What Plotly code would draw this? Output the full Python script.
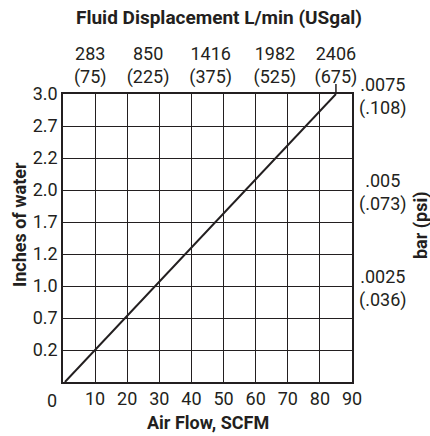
import plotly.graph_objects as go

# Data
air_flow_scfm = [0.6, 10, 85]          # x values of the line
inches_water = [0.0, 0.333, 3.0]       # y values of the line

x_ticks = [10, 20, 30, 40, 50, 60, 70, 80, 90]
y_tickvals = [i / 3 for i in range(10)]
y_ticktext = ["", "0.2", "0.7", "1.0", "1.2", "1.7", "2.0", "2.2", "2.7", "3.0"]

top_lpm = ["283", "850", "1416", "1982", "2406"]
top_usgal = ["75", "225", "375", "525", "675"]
top_pos_scfm = [8.5, 26.5, 46, 66, 85]

right_vals = [1, 2, 3]
right_bar = [".0025", ".005", ".0075"]
right_psi = [".036", ".073", ".108"]

FONT = "Roboto, Liberation Sans, sans-serif"
TXT = "#231f20"
GRID = "#231f20"

fig = go.Figure()
fig.add_trace(go.Scatter(x=air_flow_scfm, y=inches_water, mode="lines",
                         line=dict(color=TXT, width=2), showlegend=False,
                         hoverinfo="skip"))
fig.add_trace(go.Scatter(x=[0], y=[0], xaxis="x2", yaxis="y", mode="markers",
                         marker=dict(opacity=0), showlegend=False, hoverinfo="skip"))

annotations = [
    dict(text="<b>Fluid Displacement L/min (USgal)</b>", xref="paper", yref="paper",
         x=0.54, y=1.0, yshift=77, xanchor="center", yanchor="middle",
         showarrow=False, font=dict(size=19)),
    dict(text="<b>Air Flow, SCFM</b>", xref="paper", yref="paper",
         x=0.5, y=0, yshift=-40, xanchor="center", yanchor="middle",
         showarrow=False, font=dict(size=18)),
    dict(text="<b>Inches of water</b>", xref="paper", yref="paper",
         x=0, xshift=-44, y=0.545, xanchor="center", yanchor="middle",
         textangle=-90, showarrow=False, font=dict(size=18)),
    dict(text="<b>bar (psi)</b>", xref="paper", yref="paper",
         x=1, xshift=69, y=0.545, xanchor="center", yanchor="middle",
         textangle=-90, showarrow=False, font=dict(size=18)),
    dict(text="0", xref="paper", yref="paper", x=0, y=0, xshift=-4, yshift=-6,
         xanchor="right", yanchor="top", showarrow=False, font=dict(size=18)),
]
for v, b, p in zip(right_vals, right_bar, right_psi):
    annotations.append(dict(text=f"{b}<br>({p})", xref="paper", yref="y",
                            x=1, xshift=31, y=v, yshift=-2, xanchor="center",
                            yanchor="middle", align="center", showarrow=False,
                            font=dict(size=18)))

fig.update_layout(
    width=430, height=436,
    margin=dict(l=63, r=78, t=94, b=54),
    paper_bgcolor="white", plot_bgcolor="white",
    font=dict(family=FONT, color=TXT, size=18),
    xaxis=dict(range=[0, 90], tickvals=x_ticks, ticktext=[str(v) for v in x_ticks],
               showgrid=True, gridcolor=GRID, gridwidth=1, zeroline=False,
               showline=True, linecolor=GRID, linewidth=1.5, mirror=True,
               ticks="", ticklabelstandoff=0, tickfont=dict(size=18), fixedrange=True),
    xaxis2=dict(range=[0, 90], overlaying="x", side="top",
                tickvals=top_pos_scfm,
                ticktext=[f"{a}<br>({b})" for a, b in zip(top_lpm, top_usgal)],
                showgrid=False, zeroline=False, showline=False, ticks="",
                ticklabelstandoff=6, tickfont=dict(size=18), fixedrange=True),
    yaxis=dict(range=[0, 3], tickvals=y_tickvals, ticktext=y_ticktext,
               showgrid=True, gridcolor=GRID, gridwidth=1, zeroline=False,
               showline=True, linecolor=GRID, linewidth=1.5, mirror=True,
               ticks="", tickfont=dict(size=18), fixedrange=True),
    annotations=annotations,
    shapes=[dict(type="line", xref="x", yref="paper", x0=85, x1=85,
                 y0=1, y1=1.035, line=dict(color=TXT, width=1.5))],
)

fig.write_html("out.html", config={"displayModeBar": False},
               post_script="document.body.style.margin='0';")
